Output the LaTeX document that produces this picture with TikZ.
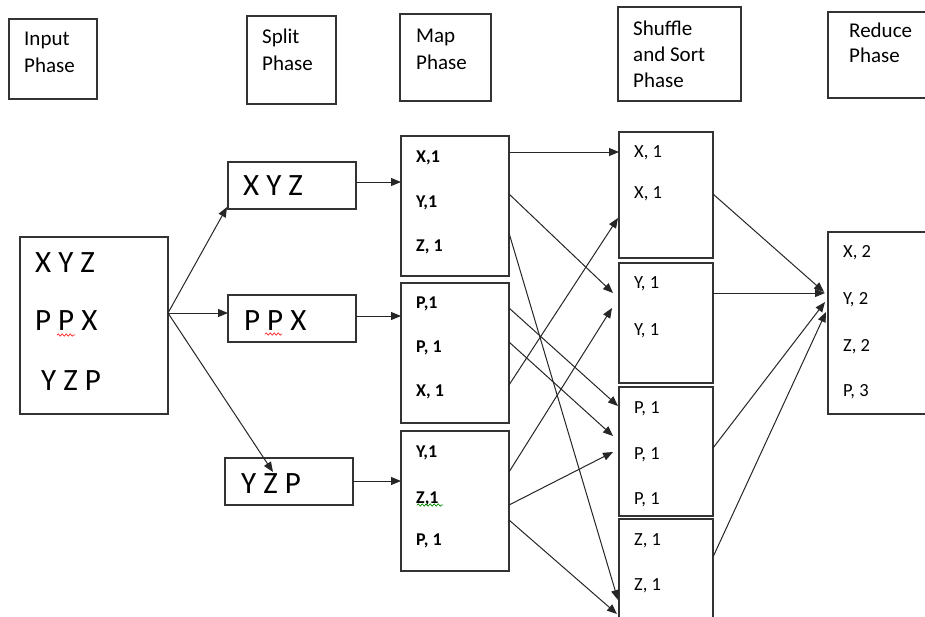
\documentclass[tikz,border=0pt]{standalone}
\usepackage{fontspec}
\setmainfont{Carlito}
\usetikzlibrary{arrows.meta,calc,decorations.pathmorphing}
\begin{document}
\begin{tikzpicture}[x=1pt,y=-1pt,
 box/.style={draw=black!80, line width=1.1pt, inner sep=0pt, outer sep=0pt, anchor=north west},
 hd/.style={anchor=base west, inner sep=0pt, text=black, font=\fontsize{21}{25}\selectfont},
 big/.style={anchor=base west, inner sep=0pt, text=black, font=\fontsize{31}{36}\selectfont},
 mp/.style={anchor=base west, inner sep=0pt, text=black, font=\bfseries\fontsize{18}{21}\selectfont},
 sh/.style={anchor=base west, inner sep=0pt, text=black, font=\fontsize{18.5}{22}\selectfont},
 arr/.style={draw=black!85, line width=1pt, -{Triangle[length=10pt,width=8pt]}},
 wig/.style={decorate, decoration={snake, amplitude=1.1pt, segment length=4pt}, line width=0.7pt}]
\clip (0,0) rectangle (925,616);
\fill[white] (0,0) rectangle (925,616);

% header boxes
\node[box, minimum width=88pt, minimum height=80pt] (hIn) at (9,19) {};
\node[box, minimum width=89pt, minimum height=88pt] (hSp) at (247,16) {};
\node[box, minimum width=91pt, minimum height=87pt] (hMap) at (400,14) {};
\node[box, minimum width=123pt, minimum height=94pt] (hSh) at (618,7) {};
\node[box, minimum width=120pt, minimum height=86pt] (hRed) at (828,12) {};

\node[hd] (tIn1) at (24,45) {Input};
\node[hd] (tIn2) at (24,72) {Phase};
\node[hd] (tSp1) at (262,43) {Split};
\node[hd] (tSp2) at (262,70) {Phase};
\node[hd] (tMp1) at (416,42) {Map};
\node[hd] (tMp2) at (416,69) {Phase};
\node[hd] (tSh1) at (633,35) {Shuffle};
\node[hd] (tSh2) at (633,61) {and Sort};
\node[hd] (tSh3) at (633,87) {Phase};
\node[hd] (tRd1) at (849,37) {Reduce};
\node[hd] (tRd2) at (849,62) {Phase};

% input
\node[box, minimum width=148pt, minimum height=177pt] (inp) at (20,237) {};
\node[big] (i1) at (35,272) {X Y Z};
\node[big] (i2) at (35,330) {P P X};
\node[big] (i3) at (41,390) {Y Z P};

% split
\node[box, minimum width=128pt, minimum height=47pt] (sp1) at (228,162) {};
\node[box, minimum width=128pt, minimum height=47pt] (sp2) at (228,295) {};
\node[box, minimum width=128pt, minimum height=47pt] (sp3) at (225,458) {};
\node[big] (sx1) at (243,195) {X Y Z};
\node[big] (sx2) at (244,330) {P P X};
\node[big] (sx3) at (241,493) {Y Z P};

% map
\node[box, minimum width=108pt, minimum height=140pt] (m1) at (401,136) {};
\node[box, minimum width=108pt, minimum height=140pt] (m2) at (401,283) {};
\node[box, minimum width=108pt, minimum height=140pt] (m3) at (401,431) {};
\node[mp] (ma1) at (416,162) {X,1};
\node[mp] (ma2) at (416,207) {Y,1};
\node[mp] (ma3) at (416,251) {Z, 1};
\node[mp] (mb1) at (416,308) {P,1};
\node[mp] (mb2) at (416,352) {P, 1};
\node[mp] (mb3) at (416,396) {X, 1};
\node[mp] (mc1) at (416,457) {Y,1};
\node[mp] (mc2) at (416,503) {Z,1};
\node[mp] (mc3) at (416,545) {P, 1};

% shuffle
\node[box, minimum width=94pt, minimum height=126pt] (s1) at (619,132) {};
\node[box, minimum width=94pt, minimum height=120pt] (s2) at (619,263) {};
\node[box, minimum width=94pt, minimum height=129pt] (s3) at (619,387) {};
\node[box, minimum width=94pt, minimum height=120pt] (s4) at (619,519) {};
\node[sh] (sa1) at (634,157) {X, 1};
\node[sh] (sa2) at (634,198) {X, 1};
\node[sh] (sb1) at (634,288) {Y, 1};
\node[sh] (sb2) at (634,335) {Y, 1};
\node[sh] (sc1) at (634,413) {P, 1};
\node[sh] (sc2) at (634,459) {P, 1};
\node[sh] (sc3) at (634,504) {P, 1};
\node[sh] (sd1) at (634,545) {Z, 1};
\node[sh] (sd2) at (634,590) {Z, 1};

% reduce
\node[box, minimum width=120pt, minimum height=182pt] (rd) at (828,232) {};
\node[sh] (r1) at (843,257) {X, 2};
\node[sh] (r2) at (843,304) {Y, 2};
\node[sh] (r3) at (843,351) {Z, 2};
\node[sh] (r4) at (843,396) {P, 3};

% spell-check squiggles
\draw[wig, red!85] (57,335) -- (75,335);
\draw[wig, red!85] (265,334) -- (282,334);
\draw[wig, green!55!black] (417,505) -- (443,505);

% input -> split
\draw[arr] (inp.east |- 0,313) -- ($(sp1.south west)+(-1,-2)$);
\draw[arr] (inp.east |- 0,313) -- (sp2.west |- 0,313);
\draw[arr] (inp.east |- 0,313) -- ($(sp3.north west)+(48,14)$);

% split -> map
\draw[arr] (sp1.east |- 0,182) -- (m1.west |- 0,182);
\draw[arr] (sp2.east |- 0,316) -- (m2.west |- 0,316);
\draw[arr] (sp3.east |- 0,481) -- (m3.west |- 0,481);

% map -> shuffle
\draw[arr] (m1.east |- 0,152) -- (s1.west |- 0,152);
\draw[arr] (m1.east |- 0,194) -- ($(s2.west |- 0,293)+(-6,0)$);
\draw[arr] (m1.east |- 0,233) -- ($(s4.west |- 0,600)+(-1,0)$);
\draw[arr] (m2.east |- 0,308) -- ($(s3.west |- 0,406)+(-1,0)$);
\draw[arr] (m2.east |- 0,342) -- ($(s3.west |- 0,436)+(-6,0)$);
\draw[arr] (m2.east |- 0,385) -- ($(s1.west |- 0,218)+(-1,0)$);
\draw[arr] (m3.east |- 0,472) -- ($(s2.west |- 0,308)+(-7,0)$);
\draw[arr] (m3.east |- 0,505) -- ($(s3.west |- 0,452)+(-6,0)$);
\draw[arr] (m3.east |- 0,520) -- ($(s4.west |- 0,614)+(-2,0)$);

% shuffle -> reduce
\draw[arr] (s1.east |- 0,194) -- ($(rd.west |- 0,292)+(-4,0)$);
\draw[arr] (s2.east |- 0,293) -- ($(rd.west |- 0,293)+(-3,0)$);
\draw[arr] (s3.east |- 0,448) -- ($(rd.west |- 0,302)+(-3,0)$);
\draw[arr] (s4.east |- 0,557) -- ($(rd.west |- 0,312)+(-2,0)$);
\end{tikzpicture}
\end{document}
